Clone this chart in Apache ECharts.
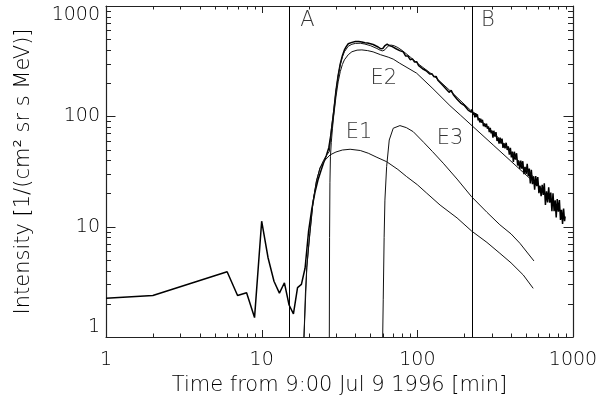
<!DOCTYPE html>
<html><head><meta charset="utf-8">
<script src="https://cdn.jsdelivr.net/npm/echarts@6/dist/echarts.min.js"></script>
<style>html,body{margin:0;padding:0;background:#fff}#c{width:597px;height:406px}</style>
</head><body><div id="c"></div>
<script>
// Observed intensity (time in min, intensity)
const obsTime = [1,2,6,7,8,9,10,11,12,13,14,15,16,17,18,19,20,21,22,23,24,25,26,27,28,29,30,31,32,33,34,35,36,37,38,39,40,42,44,46,48,50,52,54,56,57,58,59,60,61,62,63,64,65,66,67,69,71,73,75,77,79,
81,84,87,90,93,96,99,102,105,108,111,114,117,120,124,128,132,136,140,144,148,152,156,160,165,170,175,180,185,190,195,200,206,212,218,222,
225,228,231,234,237,240,243,246,249,252,255,258,262,266,270,274,278,282,286,290,294,298,302,306,310,315,320,325,330,335,340,345,350,355,360,366,372,378,384,390,396,402,408,414,420,427,434,441,448,455,462,469,476,484,492,500,508,516,524,532,540,549,558,567,576,585,594,604,614,624,634,644,654,665,676,687,698,709,720,732,744,756,768,780,792,805,818,831,844,857,870,883,890];
const obsFlux = [2.25,2.38,3.9,2.38,2.52,1.5,11.2,5.2,3.2,2.5,3.1,1.95,1.62,2.8,3.0,4.2,9.0,14.5,20.5,26.5,32,38,44,52,72,108,170,235,300,355,400,430,455,463,468,474,476,477,472,465,462,455,448,436,425,418,410,418,412,425,438,446,452,444,438,442,428,424,410,408,394,390,
385,353,352,326,332,311,313,288,288,270,275,259,263,241.5,243,228,230,211,210,194,197,179,182,165,172,158,161,143,144,132,137,126,129,114,116.5,109,
116,103.4,108.4,97.8,106.9,98.4,104.4,92.1,96.1,88.4,95.2,87.6,93.1,81.3,86.1,79.8,85.9,77.4,81,72,78.6,70.1,74.4,64.1,74,65.6,71.8,59.8,64.1,56.6,64,56.5,62.7,51.7,57,51.2,57.6,49.6,53.4,45,51.7,42.4,47.9,38.6,47.8,40.5,46.3,35.8,39.8,33.4,39.7,33.6,39.2,29.9,34.9,30.1,37.1,28.7,33.6,24.7,32.7,24.3,28.6,21.6,28.7,23.3,28.1,20.1,23.5,18.9,23.9,19.4,24.7,15.7,20.9,16.6,22.7,16.5,20.4,13.8,20.1,13.8,17.3,12.1,17.8,13.7,17.4,11.5,14.2,10.6,14.6,11.2,12.4];

// Fitted sum
const sumTime = [18.7,19.5,20.4,21.4,22.5,23.7,25,26.3,27.2,28,29,30,31,32,33,34,36,38,40,43,46,50,55,58,60,62,64,66,68,71,75,80,90,100,126,160,225,339,479,560];
const sumFlux = [1,4.3,8.7,17,26,34,40,45,48,76,112,168,232,295,345,385,432,450,458,460,452,437,412,396,392,402,425,440,442,436,420,395,345,303,237,174,110,62,35,28];

// Component E1
const e1Time = [18.7,19.1,19.5,20,20.4,21,21.4,22.5,23.7,25.5,27.5,30,33,37,43,48.4,55,63.5,75,85.4,100,115,140,180,223,280,339,400,479,555];
const e1Flux = [1,2.5,4.3,6.5,8.7,13,17,26,34,40,44.7,47.5,49.5,50.3,49,46.3,42.5,38.8,33,28.4,24,20.1,15.7,12,9.14,7.2,5.74,4.7,3.65,2.76];

// Component E2
const e2Time = [27.2,27.3,27.45,27.65,28,28.5,29,30,31,32,33,34,36,38,41,44,48,52,58,65,70,77,99,126,162,190,225,307,424,560];
const e2Flux = [1,8,25,43,58,78,100,150,205,255,295,325,362,385,398,400,394,384,362,344,330,303,246,178,125,102,82,55,36.3,25.4];

// Component E3
const e3Time = [59.9,60.4,61.2,61.9,63.5,66,70,77.3,85,94.1,110,125,146.7,180,223,280,339,400,456,561];
const e3Flux = [1,2.2,8,17.4,35,61,78,82.4,79,72.6,58,48,37.6,27,18.7,13.5,10.4,8.6,7.07,4.89];

// Interval boundaries and annotations
const boundaryTimes = [15, 225];
const annText = ['A','B','E1','E2','E3'];
const annTime = [19.7,284,42.2,61,162];
const annFlux = [732,732,71.5,221,63.3];

// Axis tick values (decades and sub-decades)
const tickVals = [1,2,3,4,5,6,7,8,9,10,20,30,40,50,60,70,80,90,100,200,300,400,500,600,700,800,900,1000];

const pairs = (a, b) => a.map((t, i) => [t, b[i]]);
const FONT = 'DejaVu Sans';
const TXT = '#000';
const FW = 200;
const isMajor = v => Math.abs(Math.log10(v) - Math.round(Math.log10(v))) < 1e-9;

const chart = echarts.init(document.getElementById('c'), null, {renderer: 'canvas'});

function xAx(pos, show) {
  return {
    type: 'log', logBase: 10, min: 1, max: 1000, position: pos,
    axisLine: {show: true, onZero: false, lineStyle: {color: '#222', width: 1.2}},
    axisTick: {show: false}, minorTick: {show: false},
    splitLine: {show: false}, minorSplitLine: {show: false},
    axisLabel: {show: show, margin: 14, fontSize: 19, fontFamily: FONT, fontWeight: FW, color: TXT,
      formatter: v => String(Math.round(v))},
    name: show ? 'Time from 9:00 Jul 9 1996 [min]' : '',
    nameLocation: 'middle', nameGap: 35,
    nameTextStyle: {fontSize: 21, fontFamily: FONT, fontWeight: FW, color: TXT}
  };
}
function yAx(pos, show) {
  return {
    type: 'log', logBase: 10, min: 1, max: 1000, position: pos,
    axisLine: {show: true, onZero: false, lineStyle: {color: '#222', width: 1.2}},
    axisTick: {show: false}, minorTick: {show: false},
    splitLine: {show: false}, minorSplitLine: {show: false},
    axisLabel: {show: show, margin: 6, fontSize: 19, fontFamily: FONT, fontWeight: FW, color: TXT,
      verticalAlignMinLabel: 'bottom', verticalAlignMaxLabel: 'top',
      formatter: v => String(Math.round(v))},
    name: show ? 'Intensity [1/(cm² sr s MeV)]' : '',
    nameLocation: 'middle', nameGap: 72,
    nameTextStyle: {fontSize: 21, fontFamily: FONT, fontWeight: FW, color: TXT}
  };
}

function tickLine(x1, y1, x2, y2) {
  return {type: 'line', shape: {x1, y1, x2, y2}, style: {stroke: '#222', lineWidth: 1}};
}

const thin = {color: '#111', width: 1};
const option = {
  animation: false,
  backgroundColor: '#fff',
  grid: {left: 106, right: 24, top: 6, bottom: 69, containLabel: false, outerBoundsMode: 'none'},
  xAxis: [xAx('bottom', true), xAx('top', false)],
  yAxis: [yAx('left', true), yAx('right', false)],
  series: [
    {type: 'line', name: 'obs', data: pairs(obsTime, obsFlux), symbol: 'none', clip: true,
     lineStyle: {color: '#000', width: 1.5},
     markLine: {silent: true, symbol: 'none', label: {show: false},
       lineStyle: {color: '#000', width: 1, type: 'solid'},
       data: boundaryTimes.map(t => ({xAxis: t}))}},
    {type: 'line', name: 'sum', data: pairs(sumTime, sumFlux), symbol: 'none', clip: true, lineStyle: thin},
    {type: 'line', name: 'E1', data: pairs(e1Time, e1Flux), symbol: 'none', clip: true, lineStyle: thin},
    {type: 'line', name: 'E2', data: pairs(e2Time, e2Flux), symbol: 'none', clip: true, lineStyle: thin},
    {type: 'line', name: 'E3', data: pairs(e3Time, e3Flux), symbol: 'none', clip: true, lineStyle: thin},
    {type: 'scatter', name: 'labels', symbolSize: 0, silent: true,
     data: annText.map((s, i) => ({value: [annTime[i], annFlux[i]], name: s})),
     label: {show: true, position: 'inside', formatter: p => p.name,
       fontSize: 21, fontFamily: FONT, fontWeight: FW, color: TXT}},
    {type: 'custom', name: 'xticks', silent: true, clip: false,
     data: tickVals.map(v => [v, 1]),
     renderItem: (params, api) => {
       const cs = params.coordSys;
       const v = api.value(0);
       const x = Math.round(api.coord([v, 1])[0]) + 0.5;
       const len = isMajor(v) ? 7 : 3.5;
       const yb = cs.y + cs.height, yt = cs.y;
       return {type: 'group', children: [tickLine(x, yb, x, yb - len), tickLine(x, yt, x, yt + len)]};
     }},
    {type: 'custom', name: 'yticks', silent: true, clip: false,
     data: tickVals.map(v => [1, v]),
     renderItem: (params, api) => {
       const cs = params.coordSys;
       const v = api.value(1);
       const y = Math.round(api.coord([1, v])[1]) + 0.5;
       const len = isMajor(v) ? 9.5 : 5;
       const xl = cs.x, xr = cs.x + cs.width;
       return {type: 'group', children: [tickLine(xl, y, xl + len, y), tickLine(xr, y, xr - len, y)]};
     }}
  ]
};
chart.setOption(option);
</script></body></html>
